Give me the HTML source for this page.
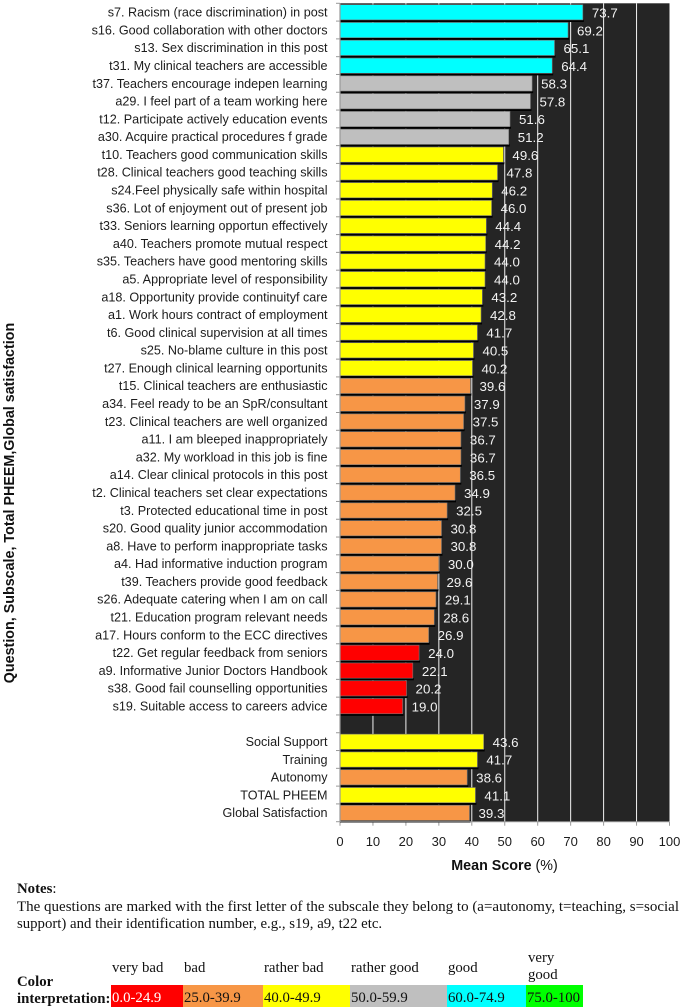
<!DOCTYPE html>
<html>
<head>
<meta charset="utf-8">
<title>Mean PHEEM scores</title>
<style>
html,body{margin:0;padding:0;background:#fff;width:685px;height:1007px;overflow:hidden}
svg{display:block;position:absolute;left:0;top:0}
.lbl{font:12.6px "Liberation Sans",sans-serif;fill:#1c1c1c}
.val{font:13.3px "Liberation Sans",sans-serif;fill:#f2f2f2}
.tick{font:13px "Liberation Sans",sans-serif;fill:#1c1c1c}
.bold{font:bold 14.3px "Liberation Sans",sans-serif;fill:#111}
.serif{font:14.8px "Liberation Serif",serif;fill:#111}
.leg{font:14.8px "Liberation Serif",serif;fill:#111}
</style>
</head>
<body>
<svg id="c" width="685" height="1007" viewBox="0 0 685 1007" xmlns="http://www.w3.org/2000/svg">
  <text class="serif" x="17" y="893" style="font-weight:bold">Notes<tspan style="font-weight:normal">:</tspan></text>
  <text class="serif" x="17" y="911" textLength="662" lengthAdjust="spacingAndGlyphs">The questions are marked with the first letter of the subscale they belong to (a=autonomy, t=teaching, s=social</text>
  <text class="serif" x="17" y="928">support) and their identification number, e.g., s19, a9, t22 etc.</text>
  <text class="serif" x="17" y="986" style="font-weight:bold">Color</text>
  <text class="serif" x="17" y="1003" style="font-weight:bold">interpretation:</text>
</svg>
<script>
var categories = ["s7. Racism (race discrimination) in post","s16. Good collaboration with other doctors","s13. Sex discrimination in this post","t31. My clinical teachers are accessible","t37. Teachers encourage indepen learning","a29. I feel part of a team working here","t12. Participate actively education events","a30. Acquire practical procedures f grade","t10. Teachers good communication skills","t28. Clinical teachers good teaching skills","s24.Feel physically safe within hospital","s36. Lot of enjoyment out of present job","t33. Seniors learning opportun effectively","a40. Teachers promote mutual respect","s35. Teachers have good mentoring skills","a5. Appropriate level of responsibility","a18. Opportunity provide continuityf care","a1. Work hours contract of employment","t6. Good clinical supervision at all times","s25. No-blame culture in this post","t27. Enough clinical learning opportunits","t15. Clinical teachers are enthusiastic","a34. Feel ready to be an SpR/consultant","t23. Clinical teachers are well organized","a11. I am bleeped inappropriately","a32. My workload in this job is fine","a14. Clear clinical protocols in this post","t2. Clinical teachers set clear expectations","t3. Protected educational time in post","s20. Good quality junior accommodation","a8. Have to perform inappropriate tasks","a4. Had informative induction program","t39. Teachers provide good feedback","s26. Adequate catering when I am on call","t21. Education program relevant needs","a17. Hours conform to the ECC directives","t22. Get regular feedback from seniors","a9. Informative Junior Doctors Handbook","s38. Good fail counselling opportunities","s19. Suitable access to careers advice","","Social Support","Training","Autonomy","TOTAL PHEEM","Global Satisfaction"];
var scores = [73.7,69.2,65.1,64.4,58.3,57.8,51.6,51.2,49.6,47.8,46.2,46.0,44.4,44.2,44.0,44.0,43.2,42.8,41.7,40.5,40.2,39.6,37.9,37.5,36.7,36.7,36.5,34.9,32.5,30.8,30.8,30.0,29.6,29.1,28.6,26.9,24.0,22.1,20.2,19.0,null,43.6,41.7,38.6,41.1,39.3];
var xTicks = [0,10,20,30,40,50,60,70,80,90,100];
var bandMins = [0,25,40,50,60,75];
var bandColors = ["#ff0000","#f79646","#ffff00","#bfbfbf","#00ffff","#00ff00"];
var bandNames = ["very bad","bad","rather bad","rather good","good","very good"];
var bandRanges = ["0.0-24.9","25.0-39.9","40.0-49.9","50.0-59.9","60.0-74.9","75.0-100"];
var bandEdges = [111,183,263,350,447,526,583];

var NS = "http://www.w3.org/2000/svg";
var svg = document.getElementById("c");
var L = 340, R = 669.5, T = 3.3, B = 821.7;
function sx(v){ return L + (v / 100) * (R - L); }
function band(){ return (B - T) / categories.length; }
function sy(i){ return T + i * band(); }
function make(tag, attrs, text){
  var e = document.createElementNS(NS, tag);
  for (var k in attrs) e.setAttribute(k, attrs[k]);
  if (text !== undefined) e.textContent = text;
  svg.appendChild(e);
  return e;
}
function colorFor(v){
  var c = bandColors[0];
  for (var i = 0; i < bandMins.length; i++) if (v >= bandMins[i]) c = bandColors[i];
  return c;
}
var bg = make("rect", {x:L, y:T, width:R-L, height:B-T, fill:"#252525"});


xTicks.forEach(function(t){
  if (t > 0 && t < 100) {
    var g = make("line", {x1:sx(t), x2:sx(t), y1:T, y2:B, stroke:"#f2f2f2", "stroke-width":1});
    
    
  }
  var m = make("line", {x1:sx(t), x2:sx(t), y1:B, y2:B+4, stroke:"#999", "stroke-width":1});
  
  
  var l = make("text", {class:"tick", x:sx(t), y:846, "text-anchor":"middle"}, String(t));
  
  
});
for (var j = 0; j <= categories.length; j++) {
  var tm = make("line", {x1:L-4, x2:L, y1:sy(j), y2:sy(j), stroke:"#999", "stroke-width":1});
  
  
}
categories.forEach(function(name, i){
  var cy = sy(i) + band() / 2;
  if (name) {
    var lb = make("text", {class:"lbl", x:327.5, y:cy + 4.4, "text-anchor":"end"}, name);
    
    
  }
  var v = scores[i];
  if (v === null) return;
  var sh = make("rect", {x:L, y:cy + 7.5, width:sx(v) - L + 1, height:2.3, fill:"#000"});
  
  
  var c = colorFor(v);
  var b = make("rect", {x:L, y:cy - 7.5, width:sx(v) - L, height:15.2, fill:c, stroke:"#777", "stroke-width":0.6});
  
  
  var t = make("text", {class:"val", x:sx(v) + 9, y:cy + 5.3}, v.toFixed(1));
  
  
});
var ax = make("line", {x1:L, x2:L, y1:T, y2:B, stroke:"#999", "stroke-width":1.2});


var ax2 = make("line", {x1:L, x2:R, y1:B, y2:B, stroke:"#999", "stroke-width":1});


var xt = make("text", {class:"bold", x:504.5, y:870, "text-anchor":"middle"}, "Mean Score ");


var xp = document.createElementNS(NS, "tspan");
xp.setAttribute("style", "font-weight:normal");
xp.textContent = "(%)";
xt.appendChild(xp);
var yt = make("text", {class:"bold", transform:"translate(14,503) rotate(-90)", "text-anchor":"middle"}, "Question, Subscale, Total  PHEEM,Global satisfaction");


bandNames.forEach(function(n, i){
  var x0 = bandEdges[i], x1 = bandEdges[i + 1];
  var r = make("rect", {x:x0, y:985, width:x1 - x0, height:22, fill:bandColors[i]});
  
  
  var rt = make("text", {class:"leg", x:x0 + 1, y:1002}, bandRanges[i]);
  if (i === 0) rt.setAttribute("style", "fill:#fff");
  
  
  if (n === "very good") {
    var n1 = make("text", {class:"leg", x:x0 + 2, y:962}, "very");
    
    
    var n2 = make("text", {class:"leg", x:x0 + 2, y:979}, "good");
    
    
  } else {
    var nm = make("text", {class:"leg", x:x0 + 1, y:972}, n);
    
    
  }
});
</script>
</body>
</html>
